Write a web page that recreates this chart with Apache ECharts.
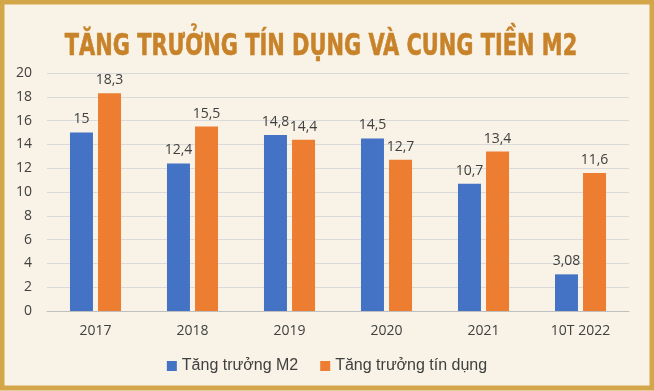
<!DOCTYPE html>
<html><head><meta charset="utf-8">
<script src="https://cdn.jsdelivr.net/npm/echarts@6/dist/echarts.min.js"></script>
<style>html,body{margin:0;padding:0;background:#f8f3e6}#c{width:654px;height:391px}</style>
</head><body><div id="c"></div>
<script>
const title = 'TĂNG TRƯỞNG TÍN DỤNG VÀ CUNG TIỀN M2';
const categories = ['2017', '2018', '2019', '2020', '2021', '10T 2022'];
const seriesNames = ['Tăng trưởng M2', 'Tăng trưởng tín dụng'];
const m2Values = [15, 12.4, 14.8, 14.5, 10.7, 3.08];
const creditValues = [18.3, 15.5, 14.4, 12.7, 13.4, 11.6];
const colors = ['#4472c4', '#ed7d31'];

const chart = echarts.init(document.getElementById('c'), null, {renderer: 'canvas'});
const fmt = p => String(p.value).replace('.', ',');
const labelStyle = {show: true, position: 'top', distance: 6, color: '#404040', fontSize: 14, fontFamily: 'Open Sans', formatter: fmt};
chart.setOption({
  backgroundColor: '#f8f3e6',
  animation: false,
  graphic: [
    {type: 'rect', shape: {x: 2, y: 2, width: 650, height: 386}, style: {fill: 'none', stroke: '#d4a64a', lineWidth: 5}, z: 100},
    {type: 'text', x: 321, y: 47, scaleX: 0.75, originX: 0, originY: 0,
     style: {text: title, fill: '#c8832a', stroke: '#c8832a', lineWidth: 0.6, font: 'bold 31px "DejaVu Sans Condensed", "DejaVu Sans", sans-serif', textAlign: 'center', textVerticalAlign: 'middle'}}
  ],
  grid: {left: 47, right: 25, top: 73, bottom: 80},
  legend: {
    data: seriesNames, bottom: 12, left: 'center', itemWidth: 10, itemHeight: 10, itemGap: 22, icon: 'rect',
    textStyle: {fontFamily: 'Liberation Sans', fontSize: 16, color: '#404040'}
  },
  xAxis: {
    type: 'category', data: categories,
    axisLine: {lineStyle: {color: '#bfbfbf'}}, axisTick: {show: false},
    axisLabel: {color: '#404040', fontSize: 14, fontFamily: 'Open Sans', margin: 13}
  },
  yAxis: {
    type: 'value', min: 0, max: 20, interval: 2,
    axisLine: {show: false}, axisTick: {show: false},
    splitLine: {lineStyle: {color: '#d9d9d9'}},
    axisLabel: {color: '#404040', fontSize: 14, fontFamily: 'Open Sans', margin: 15}
  },
  series: [
    {name: seriesNames[0], type: 'bar', data: m2Values, barWidth: 23, barGap: '22%', itemStyle: {color: colors[0]}, label: labelStyle},
    {name: seriesNames[1], type: 'bar', data: creditValues, barWidth: 23, itemStyle: {color: colors[1]}, label: labelStyle}
  ]
});
</script></body></html>
